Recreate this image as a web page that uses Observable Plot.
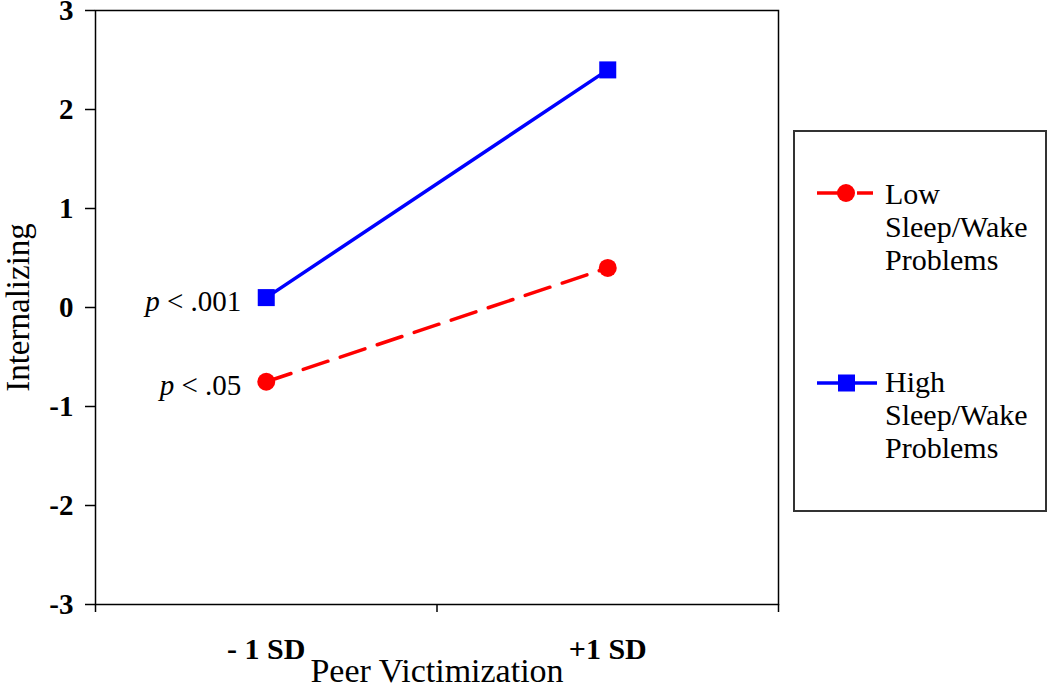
<!DOCTYPE html>
<html><head><meta charset="utf-8">
<script src="https://cdn.jsdelivr.net/npm/d3@7"></script>
<script src="https://cdn.jsdelivr.net/npm/@observablehq/plot@0.6"></script>
<style>
body{margin:0;background:#fff;}
#wrap{position:relative;width:1050px;height:693px;font-family:"Liberation Serif","Times New Roman",serif;}
#legend{position:absolute;left:793px;top:130px;width:250px;height:378px;border:2px solid #333;box-sizing:content-box;}
.entry svg{position:absolute;left:22px;}
.lab{position:absolute;left:90px;font-size:30px;line-height:33px;color:#000;white-space:nowrap;}
</style></head><body><div id="wrap"></div>
<script>
// ---- data ----
const categories = ["- 1 SD", "+1 SD"];
const seriesNames = ["Low Sleep/Wake Problems", "High Sleep/Wake Problems"];
const lowValues = [-0.75, 0.40];
const highValues = [0.10, 2.40];
const yTicks = [-3, -2, -1, 0, 1, 2, 3];
const pLabels = ["p < .05", "p < .001"];
const xTitle = "Peer Victimization";
const yTitle = "Internalizing";

const red = "#ff0000", blue = "#0000ff";
const low = categories.map((c, i) => ({x: i + 1, y: lowValues[i]}));
const high = categories.map((c, i) => ({x: i + 1, y: highValues[i]}));
const pRows = [
  {x: 1, y: lowValues[0], t: pLabels[0]},
  {x: 1, y: highValues[0], t: pLabels[1]}
];

const chart = Plot.plot({
  width: 1050,
  height: 693,
  marginLeft: 95,
  marginRight: 272,
  marginTop: 10,
  marginBottom: 89,
  style: {fontFamily: '"Liberation Serif","Times New Roman",serif', color: "#000", background: "#fff", overflow: "visible"},
  x: {type: "linear", domain: [0.5, 2.5]},
  y: {domain: [-3, 3]},
  marks: [
    Plot.frame({stroke: "#000", strokeWidth: 1.5}),
    Plot.axisY({ticks: yTicks, tickSize: 10, tickPadding: 12, fontSize: 29, fontWeight: "bold", label: null, strokeWidth: 1.5,
      tickFormat: d => (d < 0 ? "-" + Math.abs(d) : String(d))}),
    Plot.axisX({ticks: [0.5, 1.5, 2.5], tickSize: 8, tickFormat: () => "", label: null, strokeWidth: 1.5}),
    Plot.axisX({ticks: [1, 2], tickSize: 0, tickPadding: 33, tickFormat: d => categories[d - 1], fontSize: 30, fontWeight: "bold", label: null}),
    Plot.line(low, {x: "x", y: "y", stroke: red, strokeWidth: 3.5, strokeDasharray: "26,13"}),
    Plot.line(high, {x: "x", y: "y", stroke: blue, strokeWidth: 3.5}),
    Plot.dot(low, {x: "x", y: "y", r: 9, fill: red, symbol: "circle"}),
    Plot.dot(high, {x: "x", y: "y", r: 9.6, fill: blue, symbol: "square"}),
    Plot.text(pRows, {x: "x", y: "y", text: "t", textAnchor: "end", dx: -25, dy: 4, fontSize: 29, className: "plabel"}),
    Plot.text([yTitle], {frameAnchor: "left", text: d => d, rotate: -90, textAnchor: "middle", lineAnchor: "middle", dx: -77, fontSize: 33}),
    Plot.text([xTitle], {frameAnchor: "bottom", text: d => d, textAnchor: "middle", lineAnchor: "middle", dy: 67, fontSize: 34})
  ]
});
document.getElementById("wrap").appendChild(chart);

// italic "p" in annotations
d3.select(chart).selectAll(".plabel text").each(function() {
  const s = this.textContent;
  const el = d3.select(this);
  el.text("");
  el.append("tspan").attr("font-style", "italic").text(s.slice(0, 1));
  el.append("tspan").text(s.slice(1));
});

// legend
const legend = d3.select("#wrap").append("div").attr("id", "legend");
const entries = [
  {name: seriesNames[0], color: red, kind: "circle", top: 49, labTop: 44.8},
  {name: seriesNames[1], color: blue, kind: "square", top: 239, labTop: 232.8}
];
entries.forEach(e => {
  const g = legend.append("div").attr("class", "entry");
  const svg = g.append("svg").attr("width", 64).attr("height", 24).style("top", e.top + "px");
  if (e.kind === "circle") {
    svg.append("line").attr("x1", 0).attr("x2", 21).attr("y1", 12).attr("y2", 12).attr("stroke", e.color).attr("stroke-width", 3.5);
    svg.append("line").attr("x1", 40).attr("x2", 56).attr("y1", 12).attr("y2", 12).attr("stroke", e.color).attr("stroke-width", 3.5);
    svg.append("circle").attr("cx", 29).attr("cy", 12).attr("r", 9).attr("fill", e.color);
  } else {
    svg.append("line").attr("x1", 0).attr("x2", 60).attr("y1", 12).attr("y2", 12).attr("stroke", e.color).attr("stroke-width", 3.5);
    svg.append("rect").attr("x", 21).attr("y", 3.5).attr("width", 17).attr("height", 17).attr("fill", e.color);
  }
  g.append("div").attr("class", "lab").style("top", e.labTop + "px")
    .html(e.name.split(" ").join("<br>"));
});
</script>
</body></html>
